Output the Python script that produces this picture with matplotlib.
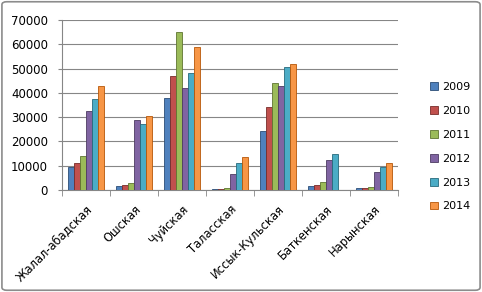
import matplotlib.pyplot as plt
import numpy as np
from matplotlib.patches import FancyBboxPatch

regions = ['Жалал-абадская', 'Ошская', 'Чуйская', 'Таласская',
           'Иссык-Кульская', 'Баткенская', 'Нарынская']
years = ['2009', '2010', '2011', '2012', '2013', '2014']

v2009 = [9300, 1500, 38000, 500, 24500, 1500, 700]
v2010 = [11200, 2000, 47000, 500, 34000, 2000, 900]
v2011 = [14200, 2700, 65000, 700, 44000, 3500, 1200]
v2012 = [32500, 29000, 42000, 6500, 43000, 12500, 7500]
v2013 = [37500, 27000, 48000, 11000, 50500, 15000, 9500]
v2014 = [43000, 30500, 59000, 13500, 52000, 200, 11000]
series = [v2009, v2010, v2011, v2012, v2013, v2014]

colors = ['#4F81BD', '#C0504D', '#9BBB59', '#8064A2', '#4BACC6', '#F79646']
edges = ['#2C4D75', '#772C2A', '#5F7530', '#4D3B62', '#276A7C', '#B65708']

fig = plt.figure(figsize=(4.82, 2.92), dpi=100)
ax = fig.add_axes([62 / 482, 1 - 190 / 292, (398 - 62) / 482, (190 - 20) / 292])

# outer border of the chart area
fig.patches.append(FancyBboxPatch((0.004, 0.006), 0.992, 0.988, boxstyle='round,pad=0,rounding_size=0.01',
                                  transform=fig.transFigure, fill=False, edgecolor='#8C8C8C', linewidth=1.2))

x = np.arange(len(regions))
w = 0.125
for i, vals in enumerate(series):
    ax.bar(x + (i - 2.5) * w, vals, width=w * 0.92, color=colors[i], edgecolor=edges[i],
           linewidth=0.6, label=years[i], zorder=3)

ax.set_xlim(-0.5, len(regions) - 0.5)
ax.set_ylim(0, 70000)
ax.set_yticks(np.arange(0, 70001, 10000))
ax.tick_params(axis='y', labelsize=8.5, length=3, color='#868686', pad=7)
ax.tick_params(axis='x', length=0, pad=9)
ax.set_xticks(x)
ax.set_xticklabels(regions, rotation=45, ha='right', rotation_mode='anchor', fontsize=8.3)
ax.set_xticks(np.arange(-0.5, len(regions)), minor=True)
ax.tick_params(axis='x', which='minor', length=4, color='#868686')
ax.yaxis.grid(True, color='#868686', linewidth=0.8, zorder=0)
for s in ['top', 'right']:
    ax.spines[s].set_visible(False)
for s in ['left', 'bottom']:
    ax.spines[s].set_color('#868686')

handles, labels = ax.get_legend_handles_labels()
fig.legend(handles, labels, loc='upper left', bbox_to_anchor=(420 / 482, 1 - 72 / 292),
           frameon=False, fontsize=8, handlelength=0.7, handleheight=0.7,
           handletextpad=0.4, labelspacing=1.25)

plt.savefig('out.png', dpi=100)
